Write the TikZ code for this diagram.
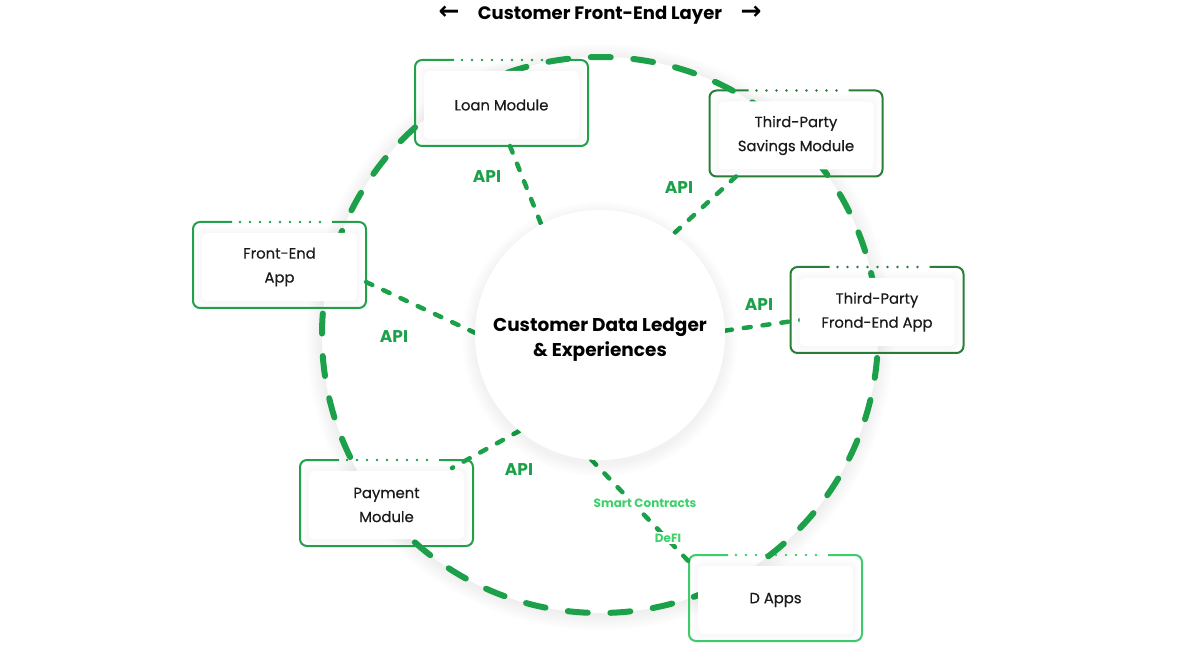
\documentclass[tikz,border=0pt]{standalone}
\usepackage{fontspec}
\setmainfont{Poppins}
\newfontfamily\cardfont{Poppins}[FakeBold=0.5]
\newfontfamily\symfont{DejaVu Sans}
\definecolor{ringg}{HTML}{1DA04A}
\definecolor{boxa}{HTML}{22A04A}
\definecolor{boxb}{HTML}{2A7F37}
\definecolor{boxc}{HTML}{3DCB6C}
\definecolor{lightg}{HTML}{3DD16B}
\definecolor{txt}{HTML}{1A1A1A}
\newcommand\obox[2]{%
  \draw[#2, line width=2pt, rounded corners=7pt] ([xshift=39pt]#1.north west) -- (#1.north west) -- (#1.south west) -- (#1.south east) -- (#1.north east) -- ([xshift=-34pt]#1.north east);
  \foreach \i in {0,...,8} \fill[#2] ([xshift={47+10*\i}]#1.north west) circle[radius=1.4pt];
}
\newcommand\cshadow[1]{%
  \foreach \s in {1,...,7} \fill[black,opacity=0.0035,rounded corners=6pt] ([xshift={9-\s},yshift={-10+\s-1}]#1.north west) rectangle ([xshift={-9+\s},yshift={8-\s-2}]#1.south east);
}
\begin{document}
\begin{tikzpicture}[x=1pt,y=-1pt,
  ring/.style={draw=ringg, line width=6pt, line cap=round, dash pattern=on 20pt off 22.6pt},
  conn/.style={draw=ringg, line width=4.5pt, line cap=round, dash pattern=on 7pt off 12pt},
  card/.style={fill=white, rounded corners=5pt, minimum width=155pt, minimum height=68pt, align=center, font=\cardfont\fontsize{14.8}{24}\selectfont, text=txt, inner sep=0pt, yshift=-2pt},
  boxarea/.style={minimum width=173pt, minimum height=86pt, inner sep=0pt, outer sep=0pt},
  api/.style={text=ringg, font=\bfseries\fontsize{17}{20}\selectfont},
  smalllab/.style={text=lightg, fill=white, inner sep=1.5pt, font=\bfseries\fontsize{12}{14}\selectfont},
  arrowlab/.style={text=black, font=\symfont\bfseries\fontsize{25}{20}\selectfont}]
\useasboundingbox (0,0) rectangle (1200,652);
\fill[white] (0,0) rectangle (1200,652);
% big disk with soft shadow
\foreach \r in {279,...,294} \fill[black,opacity=0.0035] (600,337) circle[radius=\r pt];
\fill[white] (600,335) circle[radius=278pt];
% invisible nodes
\path (600,335) node[circle, minimum size=250pt, inner sep=0pt, outer sep=0pt] (core) {};
\node[boxarea] (loan) at (501.5,103) {};
\node[boxarea] (sav) at (796,133.5) {};
\node[boxarea] (fe) at (279.5,265) {};
\node[boxarea] (tpfe) at (877,310) {};
\node[boxarea] (pay) at (386.5,503) {};
\node[boxarea] (dapp) at (775.5,598) {};
% outer boxes
\obox{loan}{boxa}
\obox{sav}{boxb}
\obox{fe}{boxa}
\obox{tpfe}{boxb}
\obox{pay}{boxa}
\obox{dapp}{boxc}
% ring
\draw[ring] (600,335) circle[radius=278pt];
% connectors
\draw[conn] ([xshift=8.5pt]loan.south) -- (core.118);
\draw[conn] ([xshift=-60pt]sav.south) -- (core.54);
\draw[conn] ([yshift=-17pt]fe.east) -- (core.179);
\draw[conn] (core.2) -- ([xshift=10pt,yshift=-10pt]tpfe.west);
\draw[conn] (core.-130) -- ([xshift=-21pt,yshift=-8pt]pay.north east);
\draw[conn] (core.-94) -- ([xshift=6pt,yshift=-13pt]dapp.north west);
% cards
\cshadow{loan}\cshadow{sav}\cshadow{fe}\cshadow{tpfe}\cshadow{pay}\cshadow{dapp}
\node[card] (loanc) at (loan) {Loan Module};
\node[card] (savc) at (sav) {Third-Party\\Savings Module};
\node[card] (fec) at (fe) {Front-End\\App};
\node[card] (tpfec) at (tpfe) {Third-Party\\Frond-End App};
\node[card] (payc) at (pay) {Payment\\Module};
\node[card] (dappc) at (dapp) {D Apps};
% center circle
\foreach \r in {126,...,138} \fill[black,opacity=0.005] (600,339) circle[radius=\r pt];
\fill[white] (core.center) circle[radius=125pt];
\node[align=center, text=black, font=\bfseries\fontsize{18.5}{25}\selectfont] (corelabel) at (600,340) {Customer Data Ledger\\\& Experiences};
% labels
\node[api] (api1) at (487,177) {API};
\node[api] (api2) at (679,188) {API};
\node[api] (api3) at (394,337) {API};
\node[api] (api4) at (759,305) {API};
\node[api] (api5) at (519,470) {API};
\node[smalllab] (sc) at (645,503) {Smart Contracts};
\node[smalllab] (defi) at (668,538) {DeFI};
% title
\node[text=black, font=\bfseries\fontsize{18}{20}\selectfont] (title) at (600,15) {Customer Front-End Layer};
\node[arrowlab] (larrow) at (449,13) {←};
\node[arrowlab] (rarrow) at (751,13) {→};
\end{tikzpicture}
\end{document}
